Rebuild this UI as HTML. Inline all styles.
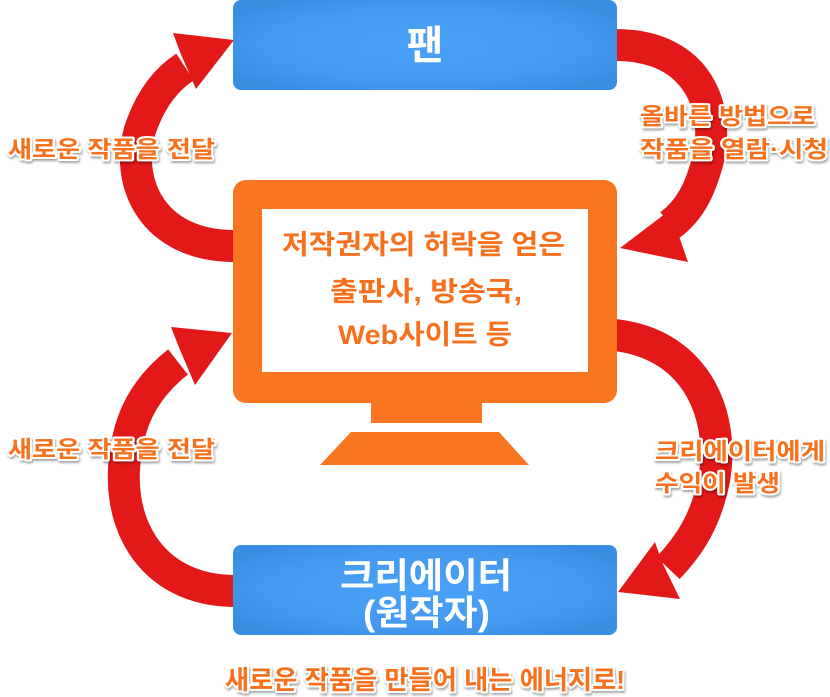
<!DOCTYPE html>
<html><head><meta charset="utf-8"><style>
html,body{margin:0;padding:0;background:#fff;width:830px;height:697px;overflow:hidden}
svg{display:block}
text{font-family:"Liberation Sans","Noto Sans CJK KR",sans-serif;font-weight:bold}
.lab{fill:#f7701e;stroke:#fff;stroke-width:4;paint-order:stroke;stroke-linejoin:round;font-size:23px}
</style></head><body>
<svg width="830" height="697" viewBox="0 0 830 697">
<defs>
<radialGradient id="bg" cx="50%" cy="50%" r="60%">
<stop offset="0" stop-color="#48a2f8"/><stop offset="0.7" stop-color="#4499ef"/><stop offset="1" stop-color="#3a8ee2"/>
</radialGradient>
<filter id="sh" x="-10%" y="-30%" width="120%" height="160%"><feDropShadow dx="1" dy="2" stdDeviation="1" flood-color="#000" flood-opacity="0.35"/></filter>
</defs>
<g fill="none" stroke="#e31818" stroke-width="32">
<path d="M235,246 C150,246 125,180 140,130 C150,100 165,80 185,67"/>
<path d="M615,45 C700,45 720,110 708,160 C700,190 690,210 670,225"/>
<path d="M235,591 C150,591 110,520 128,440 C135,405 155,380 178,362"/>
<path d="M615,335 C700,345 725,420 714,480 C706,520 690,545 668,568"/>
</g>
<g fill="#e31818">
<polygon points="234,40 173,33 180,52 196,89"/>
<polygon points="620,248 682,201 674,222 688,262"/>
<polygon points="232,333 171,327 178,345 195,385"/>
<polygon points="618,592 655,542 662,562 680,599"/>
</g>
<rect x="233" y="0" width="384" height="90" rx="8" fill="url(#bg)"/>
<text x="425" y="59" font-size="40" fill="#fff" text-anchor="middle">팬</text>
<rect x="233" y="180" width="384" height="223" rx="13" fill="#f97520"/>
<rect x="262" y="209" width="326" height="163" fill="#fff"/>
<rect x="371" y="402" width="111" height="21" fill="#f97520"/>
<polygon points="351,432 499,432 529,465 320,465" fill="#f97520"/>
<g fill="#f7701e" font-size="27">
<text x="282" y="254" textLength="283" lengthAdjust="spacingAndGlyphs">저작권자의 허락을 얻은</text>
<text x="330" y="301" textLength="192" lengthAdjust="spacingAndGlyphs">출판사, 방송국,</text>
<text x="338" y="344" textLength="174" lengthAdjust="spacingAndGlyphs">Web사이트 등</text>
</g>
<rect x="233" y="545" width="384" height="90" rx="8" fill="url(#bg)"/>
<g fill="#fff" font-size="35">
<text x="340" y="588" textLength="172" lengthAdjust="spacingAndGlyphs">크리에이터</text>
<text x="363" y="625" textLength="127" lengthAdjust="spacingAndGlyphs">(원작자)</text>
</g>
<g class="lab" filter="url(#sh)">
<text x="8" y="157" textLength="207" lengthAdjust="spacingAndGlyphs">새로운 작품을 전달</text>
<text x="8" y="457" textLength="207" lengthAdjust="spacingAndGlyphs">새로운 작품을 전달</text>
<text x="640" y="124" textLength="175" lengthAdjust="spacingAndGlyphs">올바른 방법으로</text>
<text x="640" y="157" textLength="188" lengthAdjust="spacingAndGlyphs">작품을 열람·시청</text>
<text x="655" y="459" textLength="170" lengthAdjust="spacingAndGlyphs">크리에이터에게</text>
<text x="655" y="491" textLength="125" lengthAdjust="spacingAndGlyphs">수익이 발생</text>
<text x="225" y="689" font-size="26" textLength="400" lengthAdjust="spacingAndGlyphs">새로운 작품을 만들어 내는 에너지로!</text>
</g>
</svg>
</body></html>
